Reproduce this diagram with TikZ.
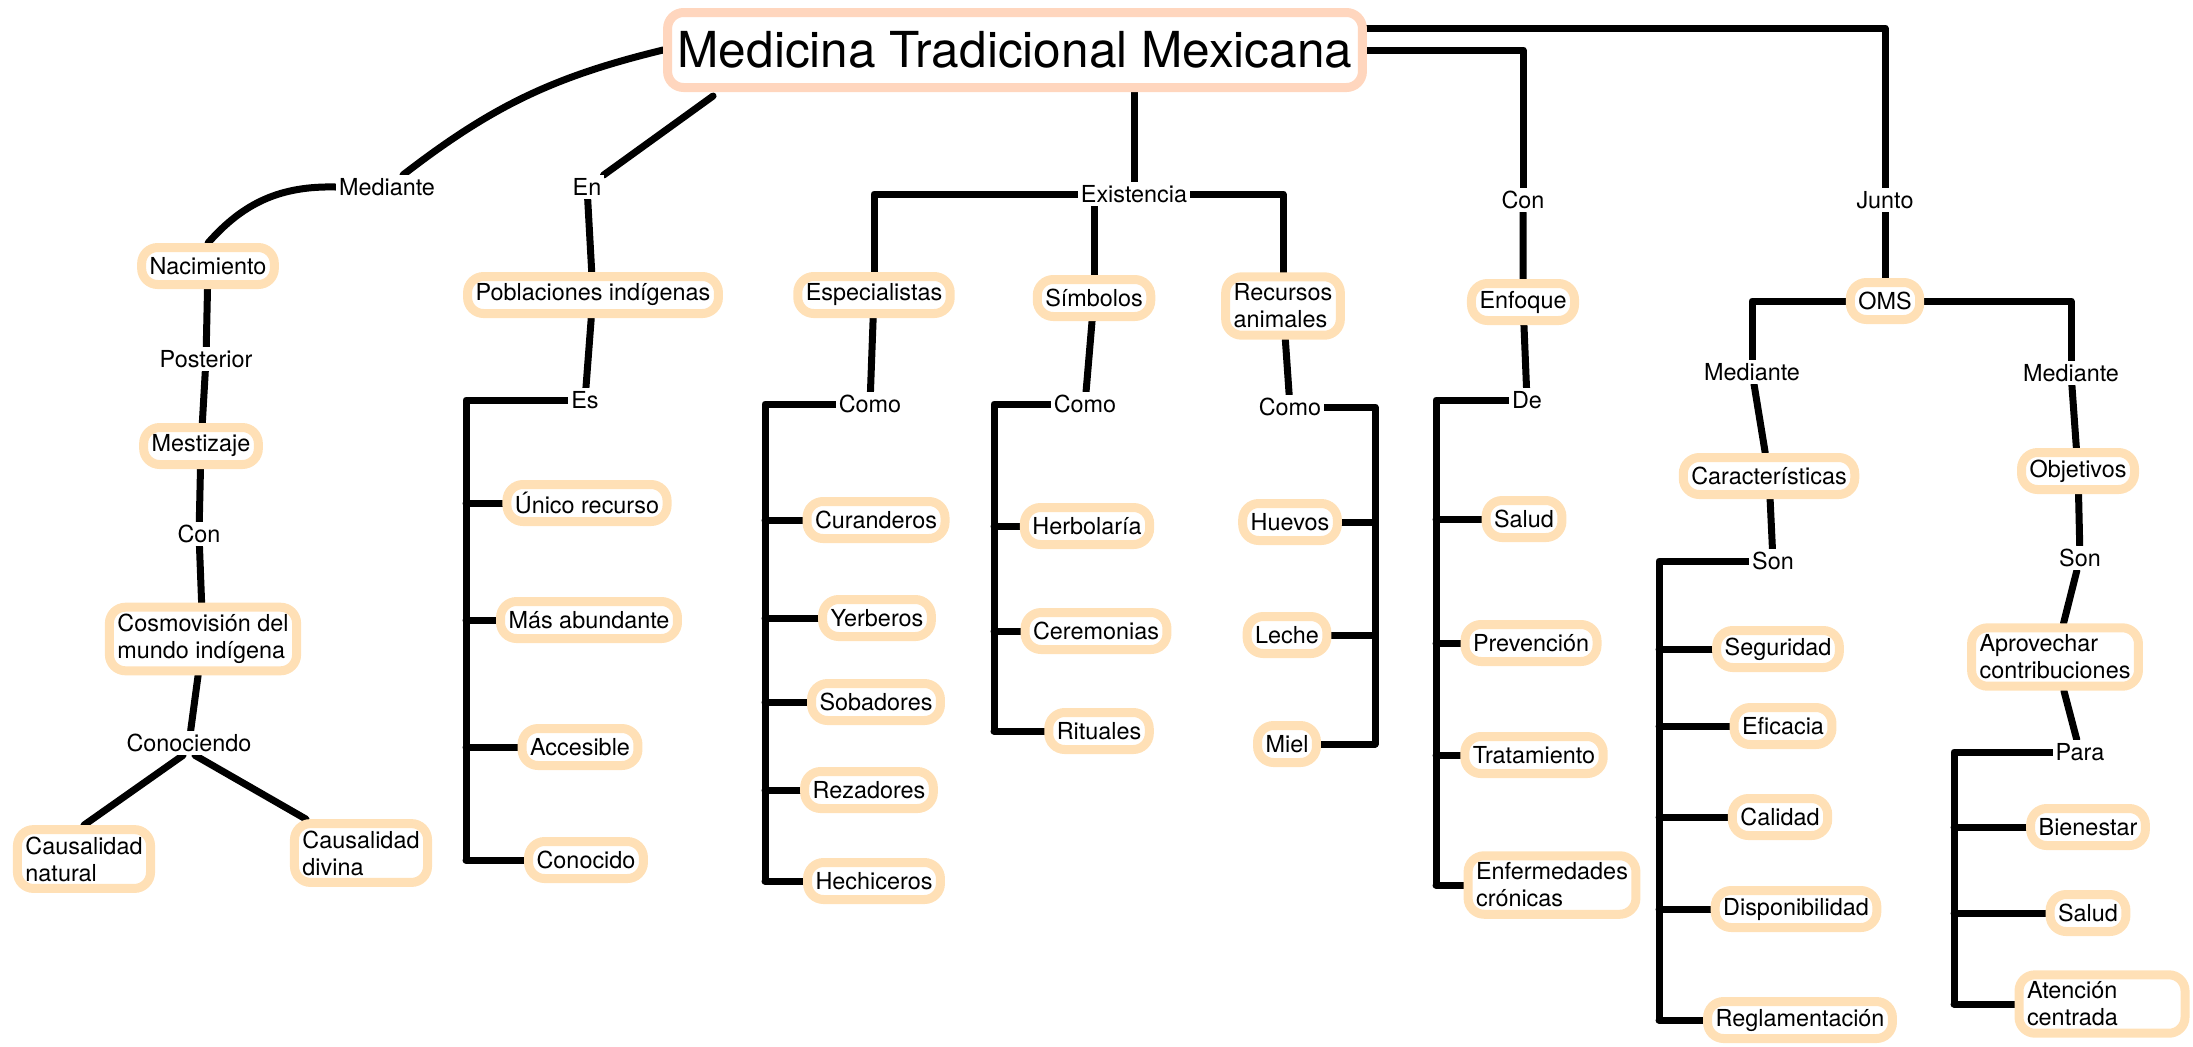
\documentclass[tikz,border=0pt]{standalone}
\usepackage{fontspec}
\setmainfont{TeX Gyre Heros}
\usetikzlibrary{backgrounds,positioning}

\definecolor{peach}{HTML}{FFE0B6}
\definecolor{salmon}{HTML}{FFD6BE}

\begin{document}
\begin{tikzpicture}[
        x=0.5pt, y=-0.5pt,
        every node/.style = {font=\fontsize{11.7}{13.5}\selectfont},
        concept/.style = {
                rectangle,
                rounded corners=8pt,
                draw=peach,
                line width=4.5pt,
                fill=white,
                inner xsep=4pt,
                inner ysep=3.5pt,
                minimum height=18.5pt,
                align=left,
            },
        mainbox/.style = {
                concept,
                draw=salmon,
                font=\fontsize{24.8}{28}\selectfont,
                inner xsep=5pt,
                minimum height=37.5pt,
            },
        word/.style = {inner sep=1.5pt, fill=white},
        link/.style = {line width=3.5pt, line cap=round, line join=round},
    ]
    \useasboundingbox (0,0) rectangle (2193,1046);

    \node[mainbox] (mtm) at (1015,50) {Medicina Tradicional Mexicana};

    % mediante / en
    \node[word] (medA) at (387,187) {Mediante};
    \node[word] (en) at (587,187) {En};
    \node[concept] (nac) at (208,266) {Nacimiento};
    \node[word] (post) at (206,359) {Posterior};
    \node[concept] (mest) at (201,446) {Mestizaje};
    \node[word] (conA) at (199,534) {Con};
    \node[concept] (cosmo) at (203,639) {Cosmovisión del\\mundo indígena};
    \node[word] (conoc) at (189,743) {Conociendo};
    \node[concept] (cnat) at (84,859) {Causalidad\\natural};
    \node[concept] (cdiv) at (361,853) {Causalidad\\divina};

    \node[concept] (pobl) at (593,295) {Poblaciones indígenas};
    \node[word] (es) at (585,400) {Es};
    \node[concept] (unico) at (587,503) {Único recurso};
    \node[concept] (masab) at (589,620) {Más abundante};
    \node[concept] (acces) at (580,747) {Accesible};
    \node[concept] (conoci) at (586,860) {Conocido};
    \coordinate (esbar) at (466,403);

    % existencia
    \node[word] (exist) at (1134,194) {Existencia};
    \node[concept] (espec) at (874,295) {Especialistas};
    \node[concept] (simb) at (1094,298) {Símbolos};
    \node[concept] (recan) at (1283,306) {Recursos\\animales};
    \node[word] (comoA) at (870,404) {Como};
    \node[concept] (cur) at (876,520) {Curanderos};
    \node[concept] (yer) at (877,618) {Yerberos};
    \node[concept] (sob) at (876,702) {Sobadores};
    \node[concept] (rez) at (869,790) {Rezadores};
    \node[concept] (hech) at (874,881) {Hechiceros};
    \coordinate (comoAbar) at (765,406);
    \node[word] (comoB) at (1085,404) {Como};
    \node[concept] (herb) at (1087,526) {Herbolaría};
    \node[concept] (cere) at (1096,631) {Ceremonias};
    \node[concept] (ritu) at (1099,731) {Rituales};
    \coordinate (comoBbar) at (994,407);
    \node[word] (comoC) at (1290,407) {Como};
    \node[concept] (huev) at (1290,522) {Huevos};
    \node[concept] (lech) at (1287,635) {Leche};
    \node[concept] (miel) at (1287,744) {Miel};
    \coordinate (comoCbar) at (1375,407);

    % con enfoque
    \node[word] (conB) at (1523,200) {Con};
    \node[concept] (enf) at (1523,302) {Enfoque};
    \node[word] (de) at (1527,400) {De};
    \node[concept] (salA) at (1524,519) {Salud};
    \node[concept] (prev) at (1531,643) {Prevención};
    \node[concept] (trat) at (1534,755) {Tratamiento};
    \node[concept] (enfcr) at (1552,885) {Enfermedades\\crónicas};
    \coordinate (debar) at (1436,399);

    % junto OMS
    \node[word] (junto) at (1885,200) {Junto};
    \node[concept] (oms) at (1885,301) {OMS};
    \node[word] (medB) at (1752,372) {Mediante};
    \node[word] (medC) at (2071,373) {Mediante};
    \node[concept] (carac) at (1769,476) {Características};
    \node[word] (sonA) at (1773,561) {Son};
    \node[concept] (seg) at (1778,649) {Seguridad};
    \node[concept] (efi) at (1783,726) {Eficacia};
    \node[concept] (cal) at (1780,817) {Calidad};
    \node[concept] (disp) at (1796,909) {Disponibilidad};
    \node[concept] (regl) at (1800,1020) {Reglamentación};
    \coordinate (sonAbar) at (1659,568);
    \node[concept] (obj) at (2078,471) {Objetivos};
    \node[word] (sonB) at (2080,558) {Son};
    \node[concept] (aprov) at (2055,657) {Aprovechar\\contribuciones};
    \node[word] (para) at (2080,752) {Para};
    \node[concept] (bien) at (2088,827) {Bienestar};
    \node[concept] (salB) at (2088,913) {Salud};
    \node[concept, text width=75pt] (aten) at (2102,1004) {Atención\\centrada};
    \coordinate (parabar) at (1954,752);

    \begin{pgfonlayer}{background}
        \draw[link] (mtm.west) to[bend right=12] ([xshift=8pt]medA.north);
        \draw[link] (medA.west) to[bend right=25] (nac.north);
        \draw[link] ([xshift=25pt,yshift=-2pt]mtm.south west) -- (en);
        \draw[link] (nac) -- (post) -- (mest) -- (conA) -- (cosmo) -- (conoc);
        \draw[link] ([xshift=-3pt]conoc.south) -- (cnat.north);
        \draw[link] ([xshift=3pt]conoc.south) -- ([xshift=8pt]cdiv.north west);

        \draw[link] (en) -- (pobl) -- (es);
        \draw[link] (es.west) -- (es.west -| esbar) -- (esbar |- conoci.west);
        \foreach \n in {unico,masab,acces,conoci}
            \draw[link] (\n.west) -- (\n.west -| esbar);

        \draw[link] (mtm.south -| exist) -- (exist);
        \draw[link] (exist.west) -| (espec.north);
        \draw[link] (exist.east) -| (recan.north);
        \draw[link] (simb.north |- exist.south) -- (simb.north);

        \draw[link] (espec) -- (comoA);
        \draw[link] (comoA.west) -- (comoA.west -| comoAbar) -- (comoAbar |- hech.west);
        \foreach \n in {cur,yer,sob,rez,hech}
            \draw[link] (\n.west) -- (\n.west -| comoAbar);

        \draw[link] (simb) -- (comoB);
        \draw[link] (comoB.west) -- (comoB.west -| comoBbar) -- (comoBbar |- ritu.west);
        \foreach \n in {herb,cere,ritu}
            \draw[link] (\n.west) -- (\n.west -| comoBbar);

        \draw[link] (recan) -- (comoC);
        \draw[link] (comoC.east) -- (comoC.east -| comoCbar) -- (comoCbar |- miel.east);
        \foreach \n in {huev,lech,miel}
            \draw[link] (\n.east) -- (\n.east -| comoCbar);

        \draw[link] (mtm.east) -| (conB.north);
        \draw[link] (conB) -- (enf) -- (de);
        \draw[link] (de.west) -- (de.west -| debar) -- (debar |- enfcr.west);
        \foreach \n in {salA,prev,trat,enfcr}
            \draw[link] (\n.west) -- (\n.west -| debar);

        \draw[link] ([yshift=11pt]mtm.east) -| (junto.north);
        \draw[link] (junto) -- (oms);
        \draw[link] (oms.west) -| (medB.north);
        \draw[link] (oms.east) -| (medC.north);
        \draw[link] (medB) -- (carac) -- (sonA);
        \draw[link] (sonA.west) -- (sonA.west -| sonAbar) -- (sonAbar |- regl.west);
        \foreach \n in {seg,efi,cal,disp,regl}
            \draw[link] (\n.west) -- (\n.west -| sonAbar);
        \draw[link] (medC) -- (obj) -- (sonB) -- (aprov) -- (para);
        \draw[link] (para.west) -- (para.west -| parabar) -- (parabar |- aten.west);
        \foreach \n in {bien,salB,aten}
            \draw[link] (\n.west) -- (\n.west -| parabar);
    \end{pgfonlayer}
\end{tikzpicture}
\end{document}
